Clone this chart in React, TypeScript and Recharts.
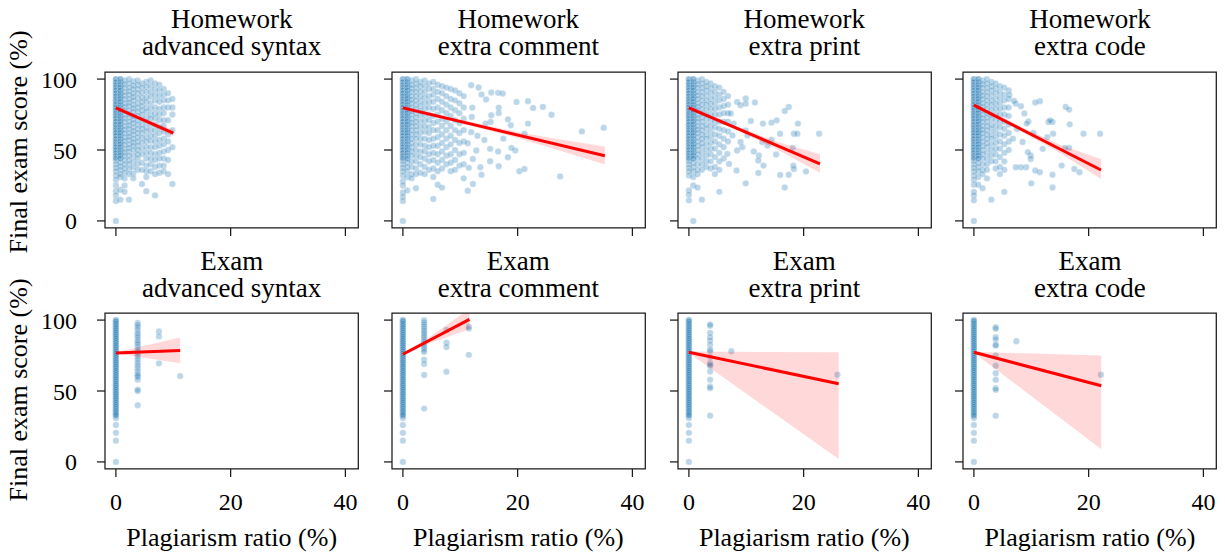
import React from 'react';
import { ComposedChart, Scatter, Area, Line, XAxis, YAxis, ReferenceArea } from 'recharts';

type Col = [number, number[]];
type Pt = [number, number];
type FitRow = { x: number; lo: number; hi: number; fit?: number };

const rowNames = ['Homework', 'Exam'];
const categories = ['advanced syntax', 'extra comment', 'extra print', 'extra code'];
const xTicks = [0, 20, 40];
const yTicks = [0, 50, 100];
const xLabel = 'Plagiarism ratio (%)';
const yLabel = 'Final exam score (%)';

// scores shared by many students at the lowest plagiarism ratios (overplotted)
const hwLowRepeat = [100, 98, 96, 94, 92, 90, 88, 86, 84, 82, 80, 78, 76, 74, 72, 70, 68, 66, 64, 62, 60, 58, 56, 54, 52, 50, 48, 46, 44];

// ---------- Homework: advanced syntax ----------
const hwSyntaxCols: Col[] = [
  [0, [100, 97.5, 95, 92.5, 90, 87.5, 85, 82.5, 80, 77.5, 75, 72.5, 70, 67.5, 65, 62.5, 60, 57.5, 55, 52.5, 50, 47.5, 45, 42.5, 40, 37.5, 35, 32, 29, 25, 21, 18, 14, 0]],
  [0, hwLowRepeat],
  [0.76, [100, 97, 94.5, 92, 89, 86.5, 84, 81, 78.5, 76, 73, 70.5, 68, 65, 62.5, 60, 57, 54.5, 52, 49, 46.5, 44, 41, 38.5, 36, 33, 31, 22, 15]],
  [0.76, hwLowRepeat],
  [1.51, [99, 96.5, 94, 91, 88.5, 86, 83, 80.5, 78, 75, 72.5, 70, 67, 64.5, 62, 59, 56.5, 54, 51, 48.5, 46, 43, 40, 37, 34, 30, 25, 20.5]],
  [2.27, [100, 97, 94, 91.5, 89, 86, 83.5, 81, 78, 75.5, 73, 70, 67.5, 65, 62, 59.5, 57, 54, 51.5, 49, 46, 43, 40, 36.5, 33, 15]],
  [3.03, [98.5, 95.5, 93, 90, 87.5, 85, 82, 79.5, 77, 74, 71.5, 69, 66, 63.5, 61, 58, 55.5, 53, 50, 46, 42, 38, 33.5, 30]],
  [3.79, [99, 96, 93, 90, 86.5, 83, 80, 77, 74, 71, 68, 65, 62, 59, 56, 53, 50, 47, 44, 40, 36]],
  [4.54, [97, 94, 90.5, 87, 84, 81, 78, 75, 71.5, 68, 65, 62, 58.5, 55, 51, 47, 41, 36, 26]],
  [5.3, [98, 94.5, 91, 87, 84, 80, 77, 73, 70, 66, 63, 59, 56, 52, 48, 44, 39, 35, 31, 21]],
  [6.06, [99, 95, 91, 87.5, 83, 79, 75, 72, 68, 64, 60, 56.5, 52, 48, 44, 40, 35]],
  [6.82, [97, 93, 89, 85, 80, 76, 72.5, 68, 64, 60, 56, 52, 47, 43, 38, 33, 18]],
  [7.57, [96, 92, 88, 84, 79, 75, 71, 66, 62, 57, 53, 48, 44, 39, 34]],
  [8.33, [93, 89, 85, 80, 76, 71, 67, 63, 58, 54, 49, 44, 39, 35]],
  [9.09, [90, 85, 80, 71, 61, 56, 50, 43, 33]],
  [9.85, [86, 80, 75, 64, 52, 26]],
];
const hwSyntaxExtra: Pt[] = [];
const hwSyntaxFit: FitRow[] = [
  { x: 0, lo: 78.2, hi: 81.1, fit: 79.7 },
  { x: 4, lo: 71.7, hi: 73.6 },
  { x: 10, lo: 59.7, hi: 64.3, fit: 61.9 },
];

// ---------- Homework: extra comment ----------
const hwCommentCols: Col[] = [
  [0, [100, 97.5, 95, 92.5, 90, 87.5, 85, 82.5, 80, 77.5, 75, 72.5, 70, 67.5, 65, 62.5, 60, 57.5, 55, 52.5, 50, 47.5, 45, 42.5, 40, 37.5, 35, 32, 28, 25, 20, 17, 14, 0]],
  [0, hwLowRepeat],
  [0.76, [100, 97, 94.5, 92, 89, 86.5, 84, 81, 78.5, 76, 73, 70.5, 68, 65, 62.5, 60, 57, 54, 51, 48, 44, 41, 38, 35, 31, 21.5]],
  [0.76, hwLowRepeat],
  [1.51, [99, 96, 93.5, 91, 88, 85.5, 83, 80, 77.5, 75, 72, 69.5, 67, 64, 61, 58, 55, 52, 49, 46, 42, 38, 33, 30]],
  [2.27, [100, 97, 94, 91, 88, 85, 82, 79, 76, 73, 70, 67, 64, 61, 58, 54, 50, 46, 42, 37, 33, 23]],
  [3.03, [98, 95, 91.5, 88, 84.5, 81, 77.5, 74, 70, 66, 62, 58, 54, 49, 45, 40, 34]],
  [3.79, [99, 95, 91, 87, 83, 79, 75, 71, 67, 63, 58, 53, 49, 44, 38, 33]],
  [4.54, [97, 93, 88, 84, 80, 75, 71, 66, 62, 57, 52, 47, 42, 36]],
  [5.3, [98, 93, 89, 84, 79, 74, 69, 64, 58, 53, 48, 43, 37, 31, 15.5]],
  [6.06, [96, 91, 86, 80, 75, 70, 64, 59, 53, 47, 41, 35, 25.5]],
  [6.82, [95, 90, 84, 78, 72, 67, 61, 55, 49, 43, 37, 23.5]],
  [7.57, [94, 88, 82, 76, 70, 64, 58, 52, 46, 40]],
  [8.33, [93, 86, 80, 74, 67, 60, 54, 47, 41, 35]],
  [9.09, [92, 85, 78, 71, 64, 57, 50, 43, 36]],
  [9.85, [90, 83, 76, 69, 62, 55, 47, 39]],
  [10.6, [88, 80, 72, 64, 56, 48, 40, 30]],
];
const hwCommentExtra: Pt[] = [
  [11.9, 95.7], [13.2, 94.1], [13.7, 89.1], [14.5, 85.6], [15.4, 90.5], [16.6, 90.3], [17.4, 89.8],
  [19.8, 83.9], [21.8, 84.4], [24.4, 80.4], [22.7, 79.7], [25.9, 74.9], [16.7, 79.9], [16.7, 76.1],
  [15.4, 74.5], [15.3, 69.7], [12.1, 79.9], [12.0, 73.3], [14.4, 68.6], [18.3, 71.6], [18.8, 67.4],
  [21.2, 61.5], [21.8, 68.6], [31.2, 63.1], [35.0, 65.7], [11.9, 62.6], [11.3, 54.8], [12.8, 49.6],
  [15.2, 50.8], [16.6, 48.9], [19.6, 49.6], [18.9, 51.5], [18.3, 44.9], [12.2, 43.7], [15.2, 42.1],
  [11.5, 37.4], [13.5, 37.8], [16.7, 38.5], [20.3, 35.0], [21.2, 36.6], [13.7, 32.6], [27.4, 31.4],
  [12.2, 26.0], [11.3, 21.3], [13.0, 60.0], [14.2, 57.0], [17.5, 58.0],
];
const hwCommentFit: FitRow[] = [
  { x: 0, lo: 78.4, hi: 81.0, fit: 79.7 },
  { x: 10, lo: 69.0, hi: 71.3 },
  { x: 20, lo: 58.5, hi: 62.6 },
  { x: 27, lo: 50.0, hi: 57.8 },
  { x: 35.2, lo: 39.7, hi: 52.5, fit: 46.0 },
];

// ---------- Homework: extra print ----------
const hwPrintCols: Col[] = [
  [0, [100, 97.5, 95, 92.5, 90, 87.5, 85, 82.5, 80, 77.5, 75, 72.5, 70, 67.5, 65, 62.5, 60, 57.5, 55, 52.5, 50, 47.5, 45, 42.5, 40, 37.5, 35, 32, 21.5, 18.5, 14.5]],
  [0, hwLowRepeat],
  [0.76, [100, 97, 94.5, 92, 89, 86.5, 84, 81, 78.5, 76, 73, 70.5, 68, 65, 62.5, 60, 57, 54.5, 52, 49, 46.5, 44, 41, 38, 35, 31, 25, 0]],
  [0.76, hwLowRepeat],
  [1.51, [99, 96.5, 94, 91, 88.5, 86, 83, 80.5, 78, 75, 72.5, 70, 67, 64.5, 62, 59, 56, 53, 50, 47, 44, 40, 36, 33, 23.5]],
  [2.27, [100, 97, 94, 91, 88, 85, 82, 79, 76, 73, 70, 67, 64, 61, 58, 55, 52, 48, 44, 40, 36, 15]],
  [3.03, [98, 95, 92, 88.5, 85, 82, 78.5, 75, 72, 68, 65, 61, 58, 54, 50, 46, 42, 38]],
  [3.79, [97, 93.5, 90, 86, 82.5, 79, 75, 71, 67, 63, 59, 55, 51, 47, 42, 37]],
  [4.54, [95, 91, 87, 83, 79, 75, 70, 66, 61, 56, 51, 45, 38, 33]],
  [5.3, [94, 89, 85, 80, 75, 70, 65, 60, 54, 48, 42, 36, 20.5]],
  [6.06, [91, 86, 81, 76, 70, 64, 58, 52, 44]],
  [6.82, [88, 82, 76, 70, 63, 56]],
];
const hwPrintExtra: Pt[] = [
  [9.9, 86.3], [11.5, 83.5], [8.4, 83.9], [9.0, 81.6], [9.9, 82.7], [17.4, 80.4], [16.7, 77.5],
  [15.3, 70.9], [14.4, 69.3], [12.9, 68.6], [10.8, 70.4], [10.2, 60.3], [9.9, 63.8], [11.3, 48.9],
  [12.2, 46.1], [12.1, 42.6], [13.0, 39.0], [14.4, 57.2], [15.2, 46.8], [15.9, 61.5], [18.3, 61.5],
  [18.9, 61.5], [19.0, 68.6], [18.1, 51.5], [18.2, 39.0], [18.3, 36.6], [20.4, 34.8], [22.7, 61.5],
  [15.9, 32.4], [17.4, 32.6], [16.7, 23.6], [12.1, 33.8], [9.9, 26.5], [8.3, 35.5], [9.0, 55.6],
  [8.4, 49.6], [9.3, 52.0], [7.3, 75.7], [7.8, 68.6], [7.6, 60.3], [6.7, 47.3], [7.0, 40.2],
  [12.8, 55.6], [13.7, 53.2],
];
const hwPrintFit: FitRow[] = [
  { x: 0, lo: 78.3, hi: 81.1, fit: 79.7 },
  { x: 8, lo: 64.6, hi: 67.3 },
  { x: 15, lo: 51.2, hi: 56.3 },
  { x: 22.85, lo: 34.0, hi: 47.0, fit: 40.2 },
];

// ---------- Homework: extra code ----------
const hwCodeCols: Col[] = [
  [0, [100, 97.5, 95, 92.5, 90, 87.5, 85, 82.5, 80, 77.5, 75, 72.5, 70, 67.5, 65, 62.5, 60, 57.5, 55, 52.5, 50, 47.5, 45, 42.5, 40, 37.5, 35, 32, 29, 25.5, 20.5, 18, 14.5, 0]],
  [0, hwLowRepeat],
  [0.76, [100, 97, 94.5, 92, 89, 86.5, 84, 81, 78.5, 76, 73, 70.5, 68, 65, 62.5, 60, 57, 54.5, 52, 49, 46.5, 44, 41, 38, 35, 31, 25.5]],
  [0.76, hwLowRepeat],
  [1.51, [99, 96.5, 94, 91, 88.5, 86, 83, 80.5, 78, 75, 72.5, 70, 67, 64.5, 62, 59, 56, 53, 50, 47, 44, 40, 36, 33, 23]],
  [2.27, [100, 97, 94, 91, 88, 85, 82, 79, 76, 73, 70, 67, 64, 61, 58, 55, 52, 48, 44, 40, 36, 30]],
  [3.03, [98, 95, 92, 88.5, 85, 82, 78.5, 75, 72, 68, 65, 61, 58, 54, 50, 46, 42, 15]],
  [3.79, [97, 93.5, 90, 86, 82.5, 79, 75, 71, 67, 63, 59, 55, 51, 47, 42, 37]],
  [4.54, [95, 91, 87, 83, 79, 75, 70, 66, 61, 56, 51, 45, 38, 33]],
  [5.3, [94, 89, 85, 80, 75, 70, 65, 60, 54, 48, 42, 36, 20.5]],
  [6.06, [92, 86, 80, 74, 68, 62, 56, 50]],
];
const hwCodeExtra: Pt[] = [
  [11.5, 84.4], [10.7, 83.5], [16.0, 80.4], [16.6, 78.5], [16.7, 68.1], [13.7, 69.7], [13.0, 69.7],
  [13.8, 61.5], [19.1, 61.5], [22.0, 61.5], [16.6, 51.5], [15.9, 51.5], [17.5, 36.6], [18.4, 34.3],
  [15.3, 39.0], [13.7, 32.6], [13.7, 23.6], [11.5, 34.3], [10.7, 35.5], [10.0, 26.5], [9.1, 37.8],
  [9.9, 46.1], [9.9, 43.7], [8.2, 37.8], [7.3, 37.8], [9.5, 70.2], [9.2, 68.6], [8.2, 80.8],
  [7.3, 82.7], [7.0, 84.6], [6.2, 88.7], [13.3, 70.9], [12.8, 59.1], [12.0, 50.8], [8.5, 55.6],
  [9.4, 48.5], [8.8, 75.7], [7.5, 65.0], [6.8, 58.0], [10.4, 62.0],
];
const hwCodeFit: FitRow[] = [
  { x: 0, lo: 80.2, hi: 83.0, fit: 81.6 },
  { x: 8, lo: 63.6, hi: 66.8 },
  { x: 15, lo: 47.8, hi: 53.7 },
  { x: 22.15, lo: 29.5, hi: 43.7, fit: 35.9 },
];

// ---------- Exam panels ----------
const examZeroScores = [100, 98.5, 97, 95.5, 94, 92.5, 91, 89.5, 88, 86.5, 85, 83.5, 82, 80.5, 79, 77.5, 76, 74.5, 73, 71.5, 70, 68.5, 67, 65.5, 64, 62.5, 61, 59.5, 58, 56.5, 55, 53.5, 52, 50.5, 49, 47.5, 46, 44.5, 43, 41.5, 40, 38.5, 37, 35.5, 34, 32.5, 31, 26, 20.5, 15, 0];
const examZeroRepeat = [100, 99, 97.5, 96, 94.5, 93, 91.5, 90, 88.5, 87, 85.5, 84, 82.5, 81, 79.5, 78, 76.5, 75, 73.5, 72, 70.5, 69, 67.5, 66, 64.5, 63, 61.5, 60, 58.5, 57, 55.5, 54, 52.5, 51, 49.5, 48, 46.5, 45, 43.5, 42, 40.5, 39, 37.5, 36, 34.5, 33];

const exSyntaxCols: Col[] = [
  [0, examZeroScores],
  [0, examZeroRepeat],
  [3.8, [98, 96.5, 95, 93, 91, 89.5, 88, 86, 84.5, 83, 81, 79, 77.5, 76, 74, 72, 70, 68, 66, 64, 62, 61, 60, 58, 51, 50, 40]],
  [7.5, [92, 88.5, 69.5]],
  [11.2, [60.5]],
];
const exSyntaxFit: FitRow[] = [
  { x: 0, lo: 76.4, hi: 77.3, fit: 76.8 },
  { x: 11.2, lo: 69.5, hi: 87.7, fit: 78.5 },
];

const exCommentCols: Col[] = [
  [0, examZeroScores],
  [0, examZeroRepeat],
  [3.7, [100, 98.5, 97, 95.5, 94, 92.5, 91, 89.5, 88, 86.5, 85, 83.5, 82, 80.5, 79, 77.5, 72, 69, 61.3, 37.6]],
  [7.6, [93, 84, 81, 63.6]],
  [11.5, [95.5, 94, 75.5]],
];
const exCommentFit: FitRow[] = [
  { x: 0, lo: 74.8, hi: 77.0, fit: 75.9 },
  { x: 3.7, lo: 82.3, hi: 85.3 },
  { x: 11.6, lo: 93.5, hi: 108, fit: 100.5 },
];

const exPrintCols: Col[] = [
  [0, examZeroScores],
  [0, examZeroRepeat],
  [3.7, [97, 96, 91, 88, 85.6, 82.7, 79.2, 78, 74, 69.7, 68.6, 67.8, 63.8, 57.9, 53.2, 52, 32.6]],
  [7.4, [78]],
  [25.9, [61.5]],
];
const exPrintFit: FitRow[] = [
  { x: 0, lo: 76.8, hi: 77.8, fit: 77.3 },
  { x: 26.1, lo: 2.0, hi: 77.3, fit: 55.1 },
];

const exCodeCols: Col[] = [
  [0, examZeroScores],
  [0, examZeroRepeat],
  [3.8, [95, 93.9, 88, 86.3, 82.7, 82, 75, 67.8, 62.6, 57.9, 52, 50.8, 32.6]],
  [7.4, [85.1]],
  [22.15, [61.5]],
];
const exCodeFit: FitRow[] = [
  { x: 0, lo: 77.0, hi: 77.6, fit: 77.3 },
  { x: 22.2, lo: 9.0, hi: 75.0, fit: 53.7 },
];

// ---------- layout ----------
const FRAME_LEFTS = [105, 391.7, 677.7, 963.3];
const FRAME_TOPS = [71.7, 313.3];
const FW = 253.3;
const FH = 156;
const XDOM: [number, number] = [-1.9, 42.25];
const YDOM: [number, number] = [-5, 105];
const FONT = "Liberation Serif, Times New Roman, serif";
const INK = '#1a1a1a';

function toPoints(cols: Col[], extra: Pt[]) {
  const out: { x: number; y: number }[] = [];
  cols.forEach(([x, ys]) => ys.forEach((y) => out.push({ x, y })));
  extra.forEach(([x, y]) => out.push({ x, y }));
  return out;
}

const panels = [
  { row: 0, col: 0, pts: toPoints(hwSyntaxCols, hwSyntaxExtra), fit: hwSyntaxFit },
  { row: 0, col: 1, pts: toPoints(hwCommentCols, hwCommentExtra), fit: hwCommentFit },
  { row: 0, col: 2, pts: toPoints(hwPrintCols, hwPrintExtra), fit: hwPrintFit },
  { row: 0, col: 3, pts: toPoints(hwCodeCols, hwCodeExtra), fit: hwCodeFit },
  { row: 1, col: 0, pts: toPoints(exSyntaxCols, []), fit: exSyntaxFit },
  { row: 1, col: 1, pts: toPoints(exCommentCols, []), fit: exCommentFit },
  { row: 1, col: 2, pts: toPoints(exPrintCols, []), fit: exPrintFit },
  { row: 1, col: 3, pts: toPoints(exCodeCols, []), fit: exCodeFit },
];

const Dot = (props: any) => {
  const { cx, cy } = props;
  if (cx == null || cy == null) return <g />;
  return (
    <circle cx={cx} cy={cy} r={3.2} fill="#1f77b4" fillOpacity={0.3} stroke="#ffffff" strokeOpacity={0.35} strokeWidth={0.7} />
  );
};

const makeTick = (show: boolean, axis: 'x' | 'y') => (props: any) => {
  const { x, y, payload } = props;
  if (!show) return <g />;
  if (axis === 'x') {
    return (
      <text x={x} y={y} dy="0.71em" textAnchor="middle" fontFamily={FONT} fontSize={24} fill="#000">
        {payload.value}
      </text>
    );
  }
  return (
    <text x={x} y={y} dy="0.355em" textAnchor="end" fontFamily={FONT} fontSize={24} fill="#000">
      {payload.value}
    </text>
  );
};

function Panel({ row, col, pts, fit }: { row: number; col: number; pts: { x: number; y: number }[]; fit: FitRow[] }) {
  const left = FRAME_LEFTS[col] - 70;
  const top = FRAME_TOPS[row] - 10;
  return (
    <div style={{ position: 'absolute', left, top }}>
      <ComposedChart width={70 + FW + 10} height={10 + FH + 50} data={fit} margin={{ top: 10, right: 10, bottom: 0, left: 0 }}>
        <XAxis
          dataKey="x"
          type="number"
          domain={XDOM}
          allowDataOverflow
          ticks={xTicks}
          interval={0}
          height={50}
          tickSize={8}
          tickMargin={16}
          axisLine={false}
          tickLine={{ stroke: INK, strokeWidth: 1.25 }}
          tick={makeTick(row === 1, 'x')}
        />
        <YAxis
          type="number"
          domain={YDOM}
          allowDataOverflow
          ticks={yTicks}
          interval={0}
          width={70}
          tickSize={8}
          tickMargin={20}
          axisLine={false}
          tickLine={{ stroke: INK, strokeWidth: 1.25 }}
          tick={makeTick(col === 0, 'y')}
        />
        <Scatter data={pts} dataKey="y" shape={Dot} isAnimationActive={false} zIndex={100} />
        <Area
          dataKey={(d: FitRow) => [d.lo, d.hi]}
          type="linear"
          stroke="none"
          fill="#ff0000"
          fillOpacity={0.15}
          dot={false}
          activeDot={false}
          isAnimationActive={false}
          zIndex={200}
        />
        <Line
          dataKey="fit"
          type="linear"
          stroke="#ff0000"
          strokeWidth={3}
          dot={false}
          activeDot={false}
          connectNulls
          isAnimationActive={false}
          zIndex={300}
        />
        <ReferenceArea
          x1={XDOM[0]}
          x2={XDOM[1]}
          y1={YDOM[0]}
          y2={YDOM[1]}
          fill="none"
          fillOpacity={0}
          stroke={INK}
          strokeWidth={1.25}
          ifOverflow="visible"
          zIndex={400}
        />
      </ComposedChart>
    </div>
  );
}

export default function App() {
  const centers = FRAME_LEFTS.map((l) => l + FW / 2);
  const titleBase = [[27.8, 55.2], [269.5, 296.9]];
  const yLabelCenters = [142, 390];
  return (
    <div style={{ position: 'absolute', left: 0, top: 0, width: 1225, height: 556, background: '#fff' }}>
      <svg width={1225} height={556} style={{ position: 'absolute', left: 0, top: 0 }}>
        {rowNames.map((rn, r) =>
          categories.map((cat, c) => (
            <g key={`${r}-${c}`} fontFamily={FONT} fontSize={27} fill="#000" textAnchor="middle">
              <text x={centers[c]} y={titleBase[r][0]}>{rn}</text>
              <text x={centers[c]} y={titleBase[r][1]}>{cat}</text>
            </g>
          ))
        )}
        {yLabelCenters.map((cy, r) => (
          <text key={`yl${r}`} x={0} y={0} transform={`translate(27, ${cy}) rotate(-90)`} fontFamily={FONT} fontSize={26} textAnchor="middle" fill="#000">
            {yLabel}
          </text>
        ))}
        {centers.map((cx, c) => (
          <text key={`xl${c}`} x={cx} y={546} fontFamily={FONT} fontSize={26} textAnchor="middle" fill="#000">
            {xLabel}
          </text>
        ))}
      </svg>
      {panels.map((p, i) => (
        <Panel key={i} row={p.row} col={p.col} pts={p.pts} fit={p.fit} />
      ))}
    </div>
  );
}
